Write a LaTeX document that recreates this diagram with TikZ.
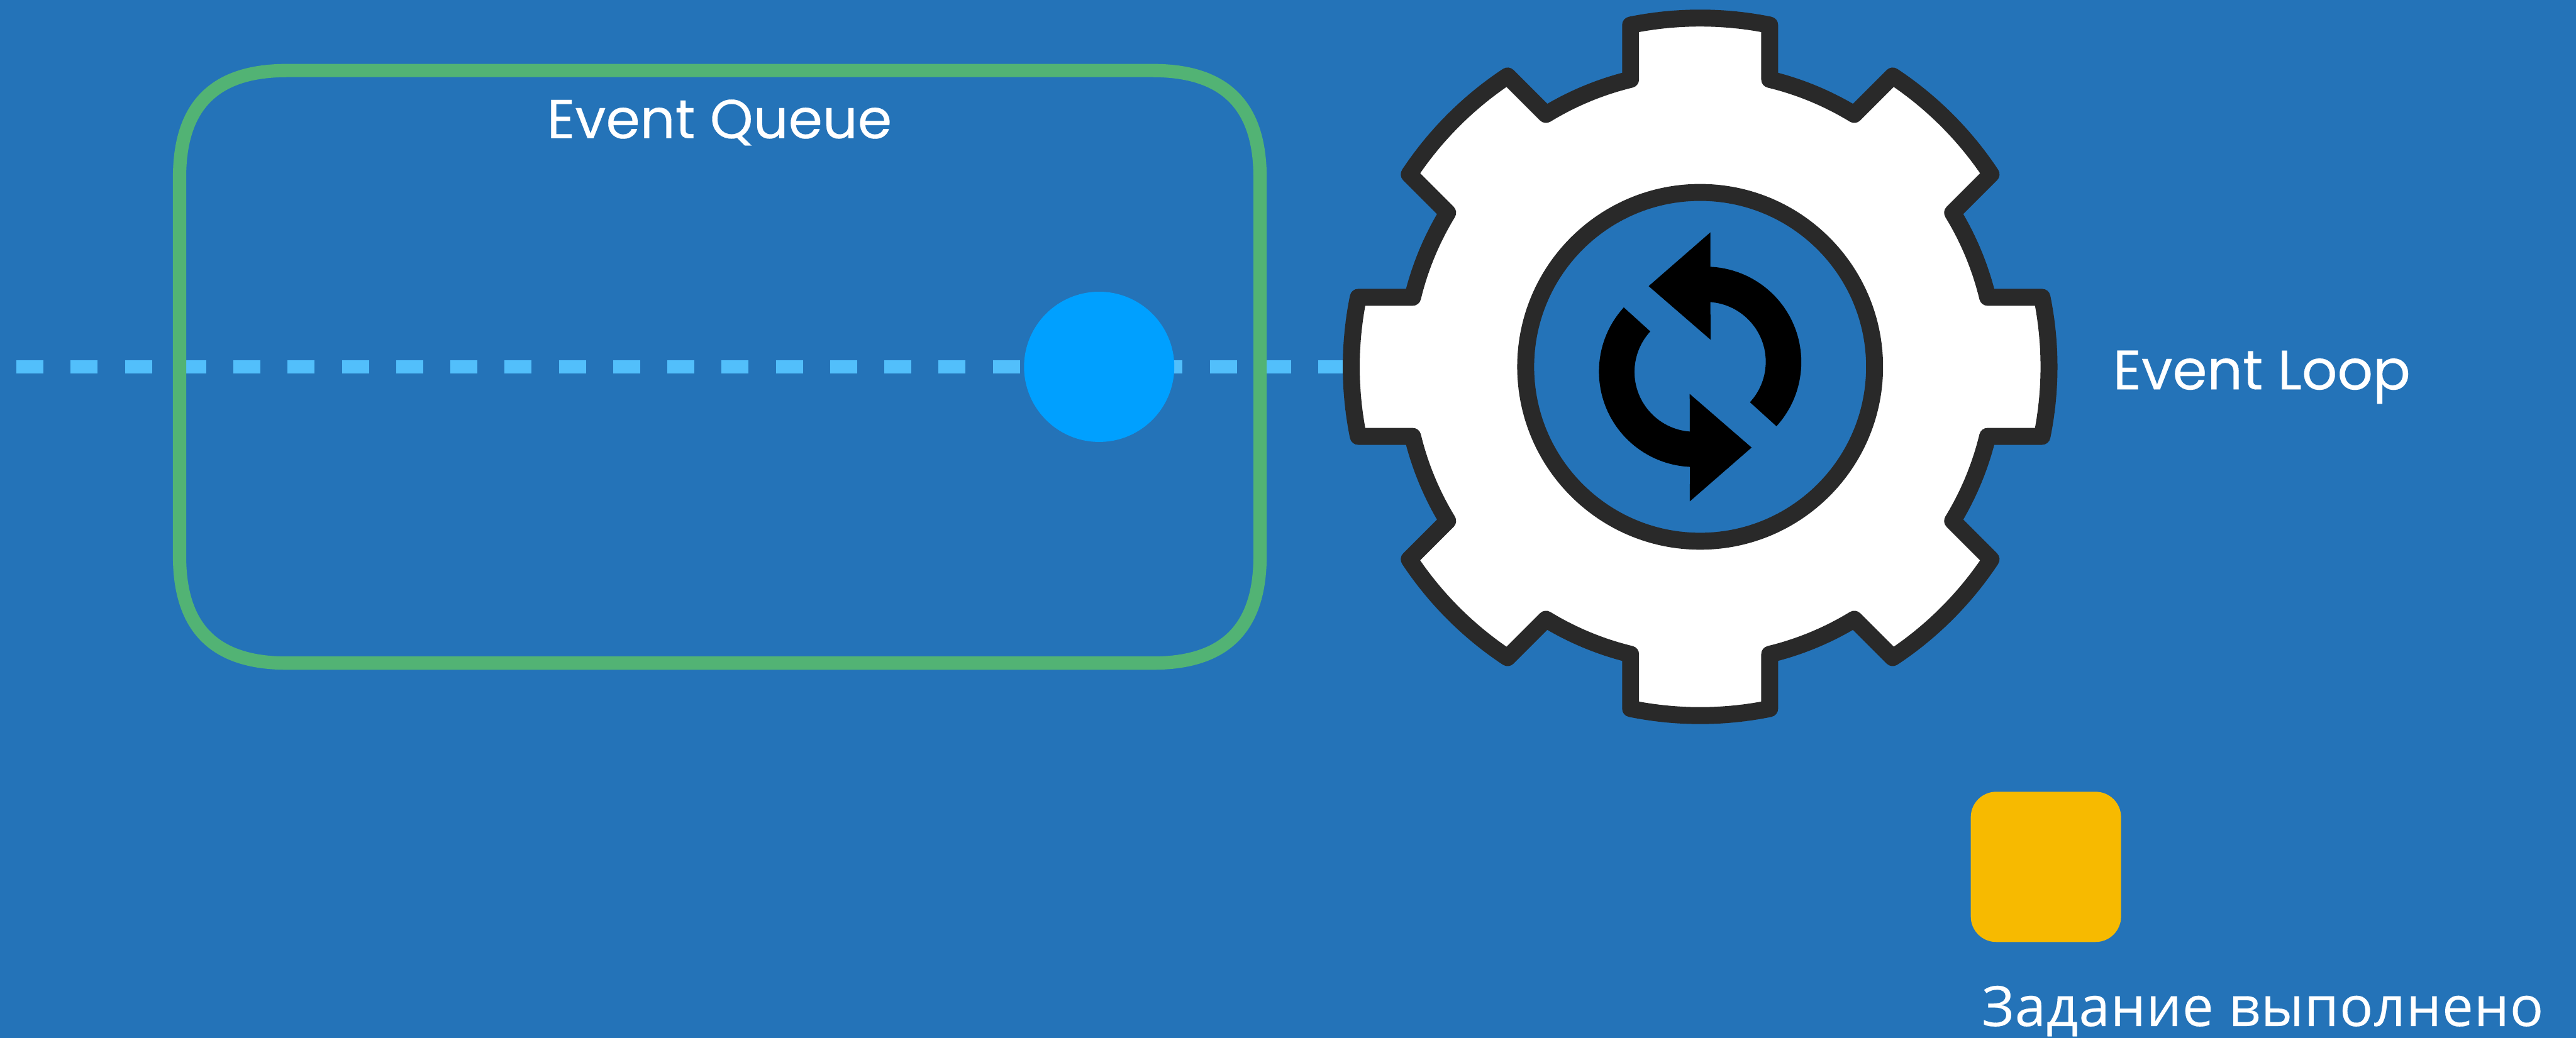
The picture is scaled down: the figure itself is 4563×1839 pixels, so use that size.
\documentclass[tikz,border=0pt]{standalone}
\usepackage{fontspec}
\setmainfont[FakeBold=0.2]{Poppins}
\newfontfamily\labelfont[LetterSpace=1.2,FakeBold=0.2]{Open Sans}
\usepackage{tikz}
\definecolor{loopblue}{HTML}{2473B8}
\definecolor{queuegreen}{HTML}{52B374}
\definecolor{streamblue}{HTML}{52BFFB}
\definecolor{eventblue}{HTML}{00A0FF}
\definecolor{geardark}{HTML}{292929}
\definecolor{doneyellow}{HTML}{F7BA00}
\tikzset{
  caption/.style={anchor=base west, text=white, inner sep=0pt, font=\fontsize{28pt}{30pt}\selectfont},
  gearline/.style={draw=geardark, line width=0.3cm, line join=round},
}

\begin{document}
\begin{tikzpicture}[x=0.01cm,y=0.01cm]
\fill[loopblue] (0,0) rectangle (4563,1839);
\useasboundingbox (0,0) rectangle (4563,1839);
\coordinate (streamstart) at (29,1189);
\coordinate (gearcentre) at (3011.5,1189);
% stream and queue
\draw[streamblue, line width=0.24cm, dash pattern=on 0.48cm off 0.4803cm] (streamstart) -- (gearcentre);
\draw[queuegreen, line width=0.235cm]
  (318,854) .. controls (318,726) and (380,664) .. (508,664)
  -- (2042,664) .. controls (2170,664) and (2232,726) .. (2232,854)
  -- (2232,1524) .. controls (2232,1652) and (2170,1714) .. (2042,1714)
  -- (508,1714) .. controls (380,1714) and (318,1652) .. (318,1524) -- cycle;
\node[circle, fill=eventblue, minimum size=2.66cm, inner sep=0pt] (event) at (1947,1189) {};
\node[caption, font=\fontsize{27.7pt}{30pt}\selectfont] (queuelabel) at (968,1594) {Event Queue};
% gear
\begin{scope}[shift={(gearcentre)}]
\draw[gearline, fill=white] (-11.5:618)
  \foreach \a in {0,45,...,315} {
    arc[start angle=\a-11.5, end angle=\a+11.5, radius=618]
    -- (\a+13.6:524) arc[start angle=\a+13.6, end angle=\a+31.4, radius=524]
    -- (\a+33.5:618)
  } -- cycle;
\end{scope}
\draw[gearline, fill=loopblue] (gearcentre) circle (309);
\foreach \r in {0,180} {
  \fill[black, shift={(gearcentre)}, rotate=\r]
    (18.2,238.3) -- (-91.2,143) -- (18.5,48) -- (18.2,114.7)
    arc[start angle=85.7, end angle=-42.6, radius=106]
    -- (135.2,-105.3) arc[start angle=-42.3, end angle=87.3, radius=169] -- cycle;
}
\node[caption] (looplabel) at (3742,1149) {Event Loop};
% finished task
\node[fill=doneyellow, rounded corners=0.45cm, minimum size=2.66cm, inner sep=0pt] (donetask) at (3624,303) {};
\node[caption, font=\labelfont\fontsize{28pt}{30pt}\selectfont] (donelabel) at (3510,21) {Задание выполнено};
\end{tikzpicture}
\end{document}
